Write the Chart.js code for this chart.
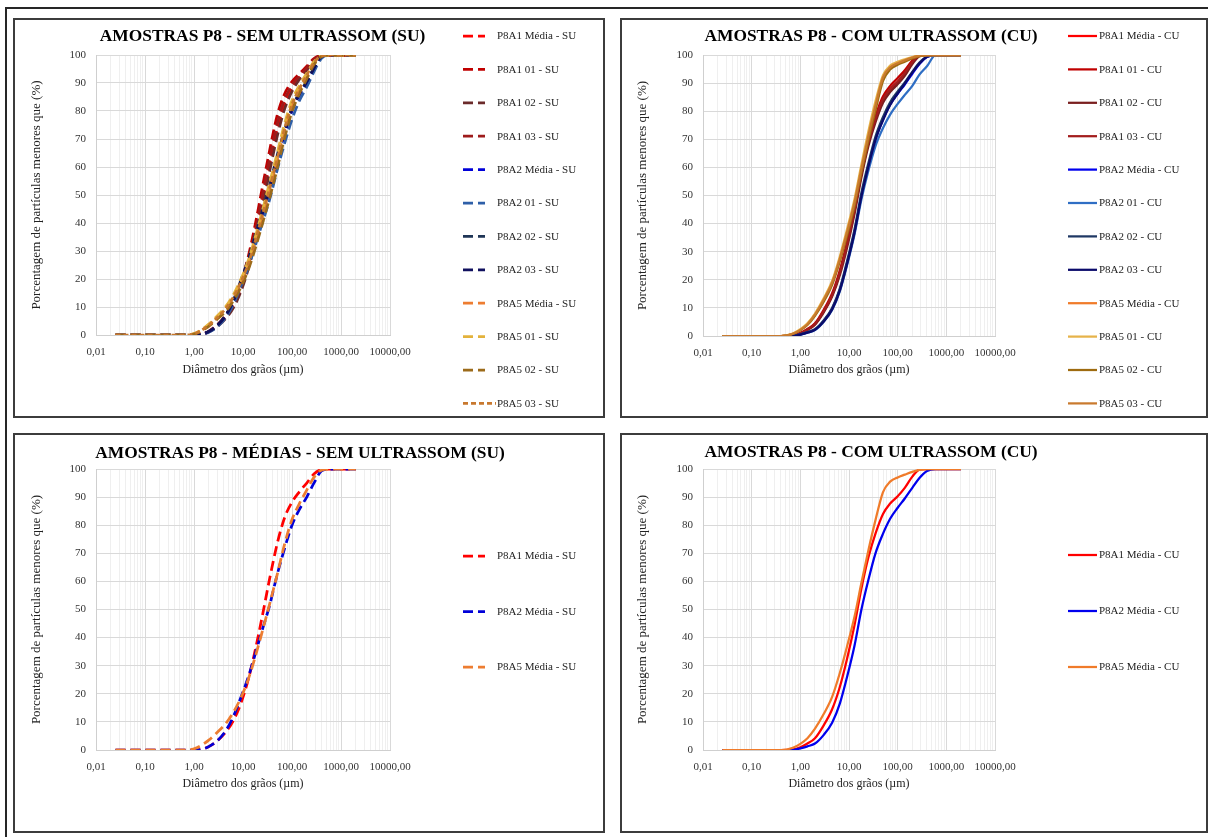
<!DOCTYPE html>
<html lang="pt-BR">
<head>
<meta charset="utf-8">
<title>Amostras P8 - granulometria</title>
<script src="https://cdn.jsdelivr.net/npm/chart.js@4"></script>
<style>
  html, body { margin: 0; padding: 0; background: #fff; }
  body { width: 1208px; height: 837px; position: relative; overflow: hidden; }
  .moldura { position: absolute; left: 5px; top: 7px; width: 1230px; height: 860px; border: 2px solid #262626; }
  .painel { position: absolute; box-sizing: border-box; border: 2px solid #3c3c3c; background: #fff; }
  .painel canvas { position: absolute; left: 0; top: 0; }
</style>
</head>
<body>
<div class="moldura"></div>
<div class="painel" style="left:13px;top:18px;width:592px;height:400px"><canvas id="c1" width="588" height="396"></canvas></div>
<div class="painel" style="left:620px;top:18px;width:588px;height:400px"><canvas id="c2" width="584" height="396"></canvas></div>
<div class="painel" style="left:13px;top:433px;width:592px;height:400px"><canvas id="c3" width="588" height="396"></canvas></div>
<div class="painel" style="left:620px;top:433px;width:588px;height:400px"><canvas id="c4" width="584" height="396"></canvas></div>

<script>
// diâmetros (µm) comuns a todas as curvas
const diametros = [0.025, 0.1, 0.4, 0.7, 1.0, 1.4, 2, 3, 4.5, 6.5, 9, 13, 18, 25, 35, 50, 70, 100, 140, 200, 280, 400, 600, 1000, 2000];

// eixo x
const decadasX = [0.01, 0.1, 1, 10, 100, 1000, 10000];
const rotulosX = ['0,01', '0,10', '1,00', '10,00', '100,00', '1000,00', '10000,00'];

// sem ultrassom (SU) - % passante
const a1MediaSU = [0,0,0,0,0,0.2,1.2,3.3,6.5,10.8,16.5,25.5,36,48,61,73.5,82.5,88.2,91.8,95,98.2,99.8,100,100,100];
const a1_01SU   = [0,0,0,0,0,0.3,1.4,3.7,7.2,12,18.5,28.5,40,53,66,78.5,86,90.5,93.2,96,98.7,99.9,100,100,100];
const a1_02SU   = [0,0,0,0,0,0.2,1.1,3,6,10,15.4,24,34,45.5,58.5,71,80.5,87,91.2,94.6,98,99.8,100,100,100];
const a1_03SU   = [0,0,0,0,0,0.2,1.2,3.4,6.7,11.2,17.2,26.6,37.5,50,63,75.5,84,89.2,92.5,95.4,98.4,99.9,100,100,100];
const a2MediaSU = [0,0,0,0,0,0.2,1.2,3.3,7,12.3,18.6,26.3,34.5,43,51.5,62.5,71.5,80,85.5,90,95,99.3,100,100,100];
const a2_01SU   = [0,0,0,0,0,0.2,1,3,6.4,11.3,17.2,24.4,32.2,40.2,48.4,59,68.2,77,83.5,88.6,94,98.8,100,100,100];
const a2_02SU   = [0,0,0,0,0,0.3,1.3,3.5,7.3,12.8,19.4,27.4,36,44.8,53.4,64.3,73,81.2,86.4,90.6,95.4,99.4,100,100,100];
const a2_03SU   = [0,0,0,0,0,0.2,1.2,3.4,7.1,12.5,19,26.8,35.2,43.8,52.3,63.2,72.2,80.6,85.9,90.3,95.2,99.4,100,100,100];
const a5MediaSU = [0,0,0,0,0.4,1.6,3.5,6.3,9.5,13.7,18.5,25.5,33.5,42.5,52,62.5,73,82,87.5,92.5,97,99.6,100,100,100];
const a5_01SU   = [0,0,0,0,0.5,1.8,3.9,6.9,10.3,14.7,19.8,27,35.3,44.6,54.4,65,75.2,83.8,89,93.5,97.6,99.8,100,100,100];
const a5_02SU   = [0,0,0,0,0.3,1.4,3.1,5.7,8.6,12.5,17,23.6,31.2,39.8,49,59.5,70.2,79.8,86,91.5,96.5,99.5,100,100,100];
const a5_03SU   = [0,0,0,0,0.4,1.6,3.5,6.3,9.6,13.9,18.8,25.8,33.9,43,52.5,63,73.5,82.4,87.8,92.8,97.2,99.7,100,100,100];

// com ultrassom (CU)
const a1MediaCU = [0,0,0,0.2,1.0,2.3,4.2,8.7,14.5,22.5,32,44.5,57.5,68.5,77,84,87.7,90.3,93.3,97.3,99.8,100,100,100,100];
const a1_01CU   = [0,0,0,0.2,1.1,2.5,4.5,9.2,15.2,23.5,33,45.5,58.5,69.5,78.3,85.3,89,91.8,94.6,98,99.9,100,100,100,100];
const a1_02CU   = [0,0,0,0.1,0.9,2.1,4,8.3,14,21.7,31,43.5,56.5,67.5,76,83,86.8,89.6,92.6,96.8,99.6,100,100,100,100];
const a1_03CU   = [0,0,0,0.2,1,2.3,4.3,8.8,14.6,22.7,32.2,44.8,57.8,68.8,77.3,84.3,88,90.6,93.6,97.5,99.8,100,100,100,100];
const a2MediaCU = [0,0,0,0,0.6,1.3,2.3,5.3,9.7,16.6,25.6,37.2,50,60.5,70,77,82.3,86.2,89.5,93.3,96.8,99.3,100,100,100];
const a2_01CU   = [0,0,0,0,0.5,1.2,2.1,5,9.3,16,24.8,36.2,48.6,58.8,67.6,74,78.8,82.6,85.8,89,93,96,100,100,100];
const a2_02CU   = [0,0,0,0,0.6,1.4,2.4,5.5,10,17,26.2,38,51,61.5,71,78,83.2,87,90.2,94,97.3,99.5,100,100,100];
const a2_03CU   = [0,0,0,0,0.5,1.2,2.2,5.1,9.4,16.2,25.2,36.8,49.6,60.2,69.8,76.8,82.2,86.3,89.8,93.8,97,99.4,100,100,100];
const a5MediaCU = [0,0,0,0.8,2.2,4.2,7.6,12.7,18.9,27.5,36.5,47.5,59.5,71,81.8,91.8,95.5,97,98,99,99.7,100,100,100,100];
const a5_01CU   = [0,0,0,0.9,2.4,4.5,8,13.3,19.6,28.4,37.6,48.8,61,72.8,83.5,92.8,96.2,97.6,98.5,99.3,99.9,100,100,100,100];
const a5_02CU   = [0,0,0,0.7,2,3.9,7.2,12.1,18.2,26.6,35.4,46.3,58.2,69.6,80.3,90.8,94.8,96.5,97.6,98.8,99.6,100,100,100,100];
const a5_03CU   = [0,0,0,0.8,2.2,4.2,7.6,12.8,19,27.6,36.6,47.6,59.6,71.2,82,92,95.6,97.1,98.1,99.1,99.8,100,100,100,100];

const fonte = '"Liberation Serif", "Times New Roman", serif';
const tracoSU = [10, 5];
const tracoCurto = [5, 3];

const seriesSU = [
  { label: 'P8A1 Média - SU', data: a1MediaSU, cor: '#ff0000', traco: tracoSU },
  { label: 'P8A1 01 - SU', data: a1_01SU, cor: '#c00000', traco: tracoSU },
  { label: 'P8A1 02 - SU', data: a1_02SU, cor: '#6b2a2a', traco: tracoSU },
  { label: 'P8A1 03 - SU', data: a1_03SU, cor: '#9e1b1b', traco: tracoSU },
  { label: 'P8A2 Média - SU', data: a2MediaSU, cor: '#0000d8', traco: tracoSU },
  { label: 'P8A2 01 - SU', data: a2_01SU, cor: '#2e5fa8', traco: tracoSU },
  { label: 'P8A2 02 - SU', data: a2_02SU, cor: '#1f3556', traco: tracoSU },
  { label: 'P8A2 03 - SU', data: a2_03SU, cor: '#10105e', traco: tracoSU },
  { label: 'P8A5 Média - SU', data: a5MediaSU, cor: '#ed7d31', traco: tracoSU },
  { label: 'P8A5 01 - SU', data: a5_01SU, cor: '#e3b23c', traco: tracoSU },
  { label: 'P8A5 02 - SU', data: a5_02SU, cor: '#9c6b1a', traco: tracoSU },
  { label: 'P8A5 03 - SU', data: a5_03SU, cor: '#c8782e', traco: tracoCurto }
];

const seriesCU = [
  { label: 'P8A1 Média - CU', data: a1MediaCU, cor: '#ff0000' },
  { label: 'P8A1 01 - CU', data: a1_01CU, cor: '#c00000' },
  { label: 'P8A1 02 - CU', data: a1_02CU, cor: '#7a1f1f' },
  { label: 'P8A1 03 - CU', data: a1_03CU, cor: '#a31d1d' },
  { label: 'P8A2 Média - CU', data: a2MediaCU, cor: '#0000ee' },
  { label: 'P8A2 01 - CU', data: a2_01CU, cor: '#2f6ec4' },
  { label: 'P8A2 02 - CU', data: a2_02CU, cor: '#1f3864' },
  { label: 'P8A2 03 - CU', data: a2_03CU, cor: '#0b0b6b' },
  { label: 'P8A5 Média - CU', data: a5MediaCU, cor: '#f07b2a' },
  { label: 'P8A5 01 - CU', data: a5_01CU, cor: '#e6b34a' },
  { label: 'P8A5 02 - CU', data: a5_02CU, cor: '#9e6b10' },
  { label: 'P8A5 03 - CU', data: a5_03CU, cor: '#c97a2e' }
];

// ticks do eixo log: 1..9 em cada década (como no Excel)
const ticksX = [];
decadasX.forEach((d, i) => {
  if (i === decadasX.length - 1) { ticksX.push(d); return; }
  for (let m = 1; m <= 9; m++) ticksX.push(Number((d * m).toPrecision(6)));
});
const ehDecada = v => decadasX.some(d => Math.abs(d - v) / d < 1e-6);
const rotuloX = v => {
  const i = decadasX.findIndex(d => Math.abs(d - v) / d < 1e-6);
  return i >= 0 ? rotulosX[i] : '';
};

// título e legenda desenhados ao lado da área do gráfico
const painelPlugin = {
  id: 'painel',
  afterDraw(chart, args, o) {
    const ctx = chart.ctx;
    ctx.save();
    ctx.fillStyle = '#000';
    ctx.font = 'bold 17.4px ' + fonte;
    ctx.textAlign = 'center';
    ctx.textBaseline = 'middle';
    ctx.fillText(o.titulo, o.tx, o.ty);

    ctx.font = '11px ' + fonte;
    ctx.textAlign = 'left';
    chart.data.datasets.forEach((ds, i) => {
      const y = o.y0 + i * o.passo;
      const curto = ds.borderDash && ds.borderDash[0] < 8;
      ctx.strokeStyle = ds.borderColor;
      ctx.lineWidth = ds.borderWidth;
      ctx.setLineDash(ds.borderDash || []);
      ctx.beginPath();
      ctx.moveTo(o.x0, y);
      ctx.lineTo(curto ? o.xt - 1 : o.x1, y);
      ctx.stroke();
      ctx.setLineDash([]);
      ctx.fillStyle = '#1e1e1e';
      ctx.fillText(ds.label, o.xt, y + 0.5);
    });
    ctx.restore();
  }
};

function grafico(id, titulo, series, tracejado, g) {
  const n = series.length;
  const datasets = series.map((s, k) => ({
    label: s.label,
    data: diametros.map((d, i) => ({ x: d, y: s.data[i] })),
    borderColor: s.cor,
    backgroundColor: s.cor,
    borderWidth: tracejado ? 2.75 : 2.25,
    borderDash: tracejado ? s.traco : [],
    pointRadius: 0,
    cubicInterpolationMode: 'monotone',
    fill: false,
    order: n - k
  }));

  return new Chart(document.getElementById(id), {
    type: 'line',
    data: { datasets },
    options: {
      responsive: false,
      animation: false,
      layout: { padding: { left: g.pl, right: g.pr, top: g.pt, bottom: g.pb } },
      plugins: {
        legend: { display: false },
        tooltip: { enabled: false },
        title: { display: false },
        painel: { titulo, tx: g.tx, ty: g.ty, x0: g.x0, x1: g.x1, xt: g.xt, y0: g.y0, passo: g.passo }
      },
      scales: {
        x: {
          type: 'logarithmic',
          min: 0.01,
          max: 10000,
          afterBuildTicks: s => { s.ticks = ticksX.map(v => ({ value: v })); },
          afterFit: s => { s.height = g.hx; },
          ticks: {
            autoSkip: false, maxRotation: 0, minRotation: 0, padding: 11,
            color: '#333', font: { family: fonte, size: 11 },
            callback: v => rotuloX(v)
          },
          grid: {
            drawTicks: false,
            color: c => (c.tick && ehDecada(c.tick.value)) ? '#d9d9d9' : '#efefef'
          },
          border: { color: '#cfcfcf' },
          title: {
            display: true, text: 'Diâmetro dos grãos (µm)', color: '#222',
            font: { family: fonte, size: 12 }, padding: 0
          }
        },
        y: {
          min: 0,
          max: 100,
          afterFit: s => { s.width = g.wy; },
          ticks: { stepSize: 10, padding: 10, color: '#333', font: { family: fonte, size: 11 } },
          grid: { drawTicks: false, color: '#d9d9d9' },
          border: { color: '#cfcfcf' },
          title: {
            display: true, text: 'Porcentagem de partículas menores que (%)', color: '#222',
            font: { family: fonte, size: 13 }, padding: 0
          }
        }
      }
    },
    plugins: [painelPlugin]
  });
}

grafico('c1', 'AMOSTRAS P8 - SEM ULTRASSOM (SU)', seriesSU, true,
  { pl: 14, wy: 67, pr: 213, pt: 35, hx: 42, pb: 39, tx: 247.5, ty: 17, x0: 448, x1: 470, xt: 482, y0: 16, passo: 33.4 });

grafico('c2', 'AMOSTRAS P8 - COM ULTRASSOM (CU)', seriesCU, false,
  { pl: 13, wy: 68, pr: 211, pt: 35, hx: 41, pb: 39, tx: 249, ty: 17, x0: 446, x1: 475, xt: 477, y0: 16, passo: 33.4 });

grafico('c3', 'AMOSTRAS P8 - MÉDIAS - SEM ULTRASSOM (SU)', [seriesSU[0], seriesSU[4], seriesSU[8]], true,
  { pl: 14, wy: 67, pr: 213, pt: 34, hx: 41, pb: 40, tx: 285, ty: 19, x0: 448, x1: 470, xt: 482, y0: 121, passo: 55.5 });

grafico('c4', 'AMOSTRAS P8 - COM ULTRASSOM (CU)', [seriesCU[0], seriesCU[4], seriesCU[8]], false,
  { pl: 13, wy: 68, pr: 211, pt: 34, hx: 41, pb: 40, tx: 249, ty: 18, x0: 446, x1: 475, xt: 477, y0: 120, passo: 56 });
</script>
</body>
</html>
